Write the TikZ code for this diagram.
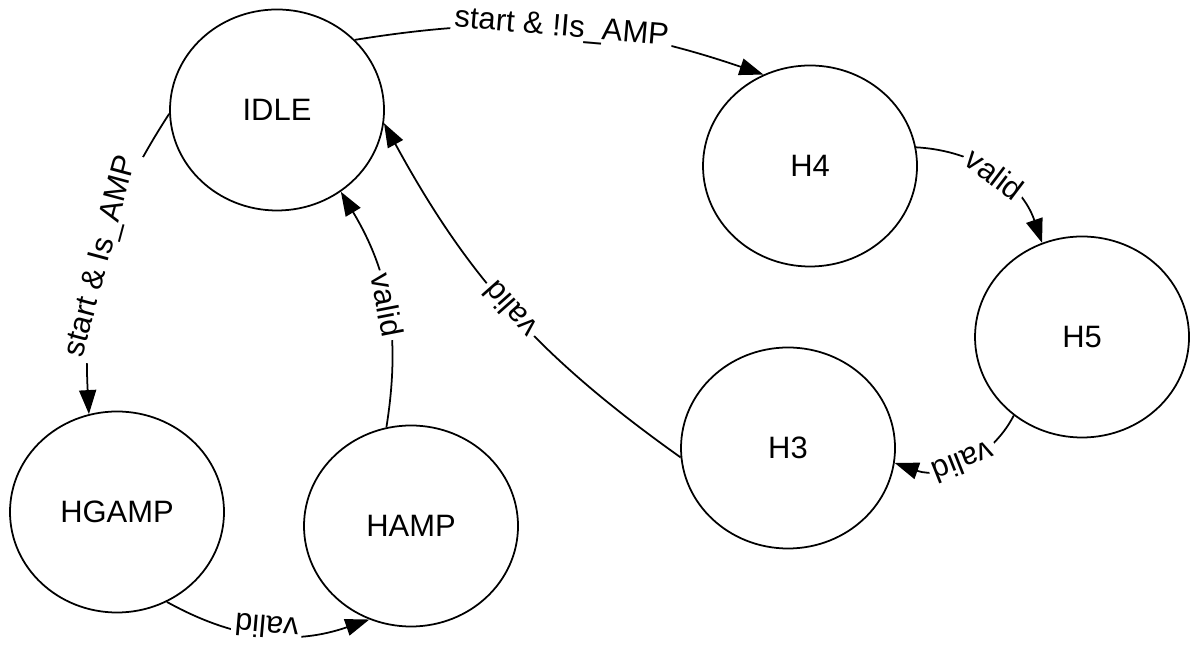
\documentclass[tikz,border=0pt]{standalone}
\usepackage{fontspec}
\setmainfont{Liberation Sans}
\usetikzlibrary{shapes.geometric,arrows.meta}
\begin{document}
\begin{tikzpicture}[
  every node/.style={font=\fontsize{8.8}{10}\selectfont},
  st/.style={draw,ellipse,line width=0.5pt,minimum width=2.14cm,minimum height=2.01cm,inner sep=0pt},
  tr/.style={line width=0.5pt,-{Triangle[length=0.24cm,width=0.17cm]}},
  lbl/.style={sloped,allow upside down,fill=white,inner sep=1pt}]
\useasboundingbox (0,0) rectangle (11.99,-6.45);
% states
\node[st] (IDLE) at (2.77,-1.10) {IDLE};
\node[st] (H4) at (8.10,-1.66) {H4};
\node[st] (H5) at (10.82,-3.37) {H5};
\node[st] (H3) at (7.88,-4.48) {H3};
\node[st] (HGAMP) at (1.17,-5.12) {HGAMP};
\node[st] (HAMP) at (4.11,-5.26) {HAMP};
% transitions
\draw[tr] (IDLE.42) to[bend left=14] node[lbl] {start \& !Is\_AMP} (H4.117);
\draw[tr] (H4.10) to[bend left=34] node[lbl] {valid} (H5.113);
\draw[tr] (H5.229) to[bend left=41] node[lbl] {valid} (H3.-8);
\draw[tr] (H3.185) to[bend left=13] node[lbl] {valid} (IDLE.-7);
\draw[tr] (HAMP.104) to[bend right=20] node[lbl,rotate=180] {valid} (IDLE.-52);
\draw[tr] (IDLE.182) to[bend right=18] node[lbl,rotate=180] {start \& Is\_AMP} (HGAMP.106);
\draw[tr] (HGAMP.-61) to[bend right=24] node[lbl,rotate=180,anchor=north,outer sep=-2pt] {valid} (HAMP.246);
\end{tikzpicture}
\end{document}
